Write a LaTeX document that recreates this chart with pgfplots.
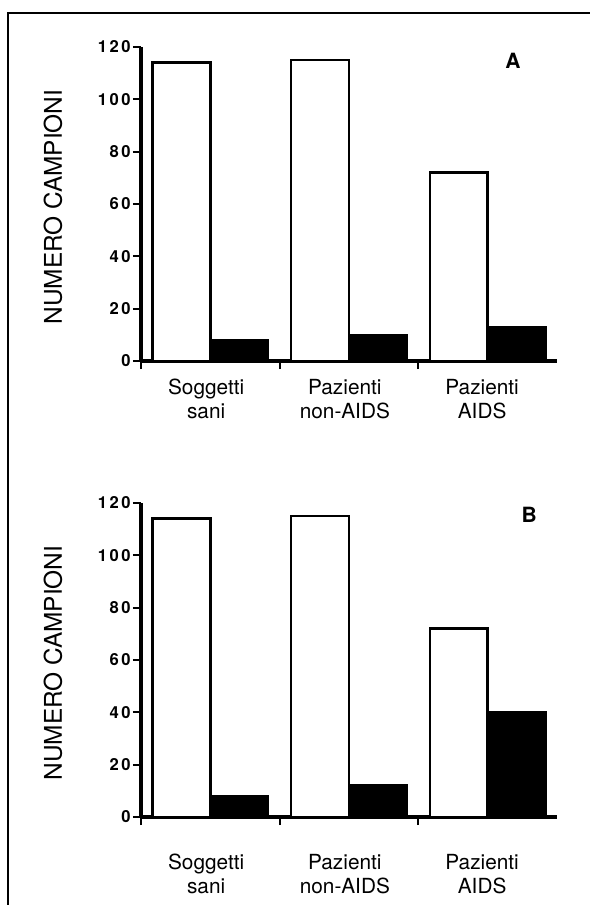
\documentclass[border=0pt]{standalone}
\usepackage{pgfplots}
\pgfplotsset{compat=1.18}
\usepackage{fontspec}
\setmainfont{TeX Gyre Heros}
\newfontfamily\tickfont[LetterSpace=15]{TeX Gyre Heros}

\pgfplotsset{
  panel/.style={
    scale only axis, width=208pt, height=157pt,
    xmin=0, xmax=3, ymin=0, ymax=120,
    clip=false,
    axis x line=bottom, axis y line=left,
    axis line style={-, line width=1.6pt},
    tick align=outside,
    major tick length=4pt,
    tick style={line width=0.9pt, black},
    ytick={0,20,40,60,80,100,120},
    /pgf/number format/assume math mode=true,
    yticklabel style={font=\tickfont\bfseries\fontsize{8.3}{9}\selectfont, inner sep=1pt},
    xtick={0,1,2},
    xticklabels={{},{},{}},
    extra x ticks={0.47,1.47,2.46},
    extra x tick labels={{Soggetti\\sani},{Pazienti\\non-AIDS},{Pazienti\\AIDS}},
    extra x tick style={major tick length=0pt, xticklabel style={align=center, anchor=north, inner sep=0pt, font=\fontsize{10.4}{12}\selectfont}},
    ylabel={NUMERO CAMPIONI},
    ylabel style={at={(axis description cs:-0.2115,0.49)}, anchor=center, font=\fontsize{12.2}{14}\selectfont},
  },
  wbar/.style={ybar, bar width=0.417, bar shift=-0.2085, fill=white, draw=black, line width=1.3pt},
  kbar/.style={ybar, bar width=0.417, bar shift=0.2085, fill=black, draw=black, line width=1.3pt},
}

\begin{document}
\begin{tikzpicture}
\useasboundingbox (0pt,0pt) rectangle (295pt,-452.5pt);
\draw[line width=0.8pt] (4pt,-452.5pt) -- (4pt,-6.5pt) -- (295pt,-6.5pt);

% Panel A
\begin{axis}[panel, at={(70.5pt,-180.5pt)}, anchor=south west,
  extra x tick style={xticklabel style={yshift=-9pt}}]
\addplot[wbar] coordinates {(0.5,114) (1.5,115) (2.5,72)};
\addplot[kbar] coordinates {(0.5,8) (1.5,10) (2.5,13)};
\node[font=\bfseries\fontsize{10.5}{12}\selectfont] at (axis description cs:0.894,0.955) {A};
\end{axis}

% Panel B
\begin{axis}[panel, at={(70.5pt,-408.5pt)}, anchor=south west,
  extra x tick style={xticklabel style={yshift=-18.5pt}}]
\addplot[wbar] coordinates {(0.5,114) (1.5,115) (2.5,72)};
\addplot[kbar] coordinates {(0.5,8) (1.5,12) (2.5,40)};
\node[font=\bfseries\fontsize{10.5}{12}\selectfont] at (axis description cs:0.933,0.962) {B};
\end{axis}
\end{tikzpicture}
\end{document}
